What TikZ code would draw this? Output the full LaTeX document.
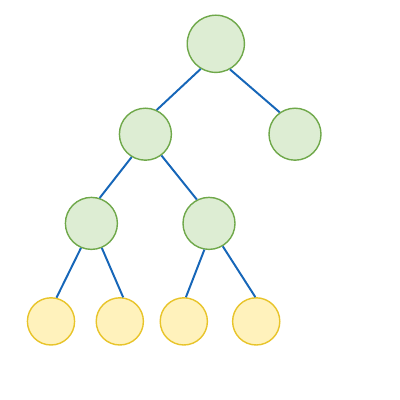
\documentclass[tikz,border=0pt]{standalone}
\usepackage{tikz}
\usetikzlibrary{positioning}
\definecolor{greenfill}{HTML}{DDEDD3}
\definecolor{greendraw}{HTML}{6FA84A}
\definecolor{yellowfill}{HTML}{FFF2BC}
\definecolor{yellowdraw}{HTML}{E8C42A}
\definecolor{edgeblue}{HTML}{1666B8}

\begin{document}
\begin{tikzpicture}[
			on grid,
			inner node/.style={draw=greendraw, fill=greenfill, circle, line width=1pt, minimum size=1.3cm, inner sep=0pt},
			leaf/.style={draw=yellowdraw, fill=yellowfill, circle, line width=1pt, minimum size=1.18cm, inner sep=0pt},
			edge/.style={draw=edgeblue, line width=1.4pt}
			]
			\path[use as bounding box] (0,0) rectangle (10,10); % Ramka obrazka
			
			% --- Definicja węzłów (wierzchołki drzewa) ---
			\node[inner node, minimum size=1.43cm] (root) at (5.395,8.905) {}; % Korzeń
			\node[inner node, below left=2.26cm and 1.76cm of root] (left) {};
			\node[inner node, below right=2.26cm and 1.98cm of root] (right) {};
			\node[inner node, below left=2.23cm and 1.35cm of left] (leftleft) {};
			\node[inner node, below right=2.23cm and 1.59cm of left] (leftright) {};
			\node[leaf, below left=2.45cm and 1.01cm of leftleft] (leafA) {}; % Liście
			\node[leaf, below right=2.45cm and 0.71cm of leftleft] (leafB) {};
			\node[leaf, below left=2.45cm and 0.63cm of leftright] (leafC) {};
			\node[leaf, below right=2.45cm and 1.18cm of leftright] (leafD) {};
			
			% --- Rysowanie krawędzi (od kotwic na brzegu okręgu) ---
			\draw[edge] (root.-121) -- (left.65);
			\draw[edge] (root.-61) -- (right.125);
			\draw[edge] (left.-121) -- (leftleft.72);
			\draw[edge] (left.-53) -- (leftright.117);
			\draw[edge] (leftleft.-113) -- (leafA.77);
			\draw[edge] (leftleft.-67) -- (leafB.82);
			\draw[edge] (leftright.-100) -- (leafC.85);
			\draw[edge] (leftright.-59) -- (leafD.92);
			
		\end{tikzpicture}
\end{document}
